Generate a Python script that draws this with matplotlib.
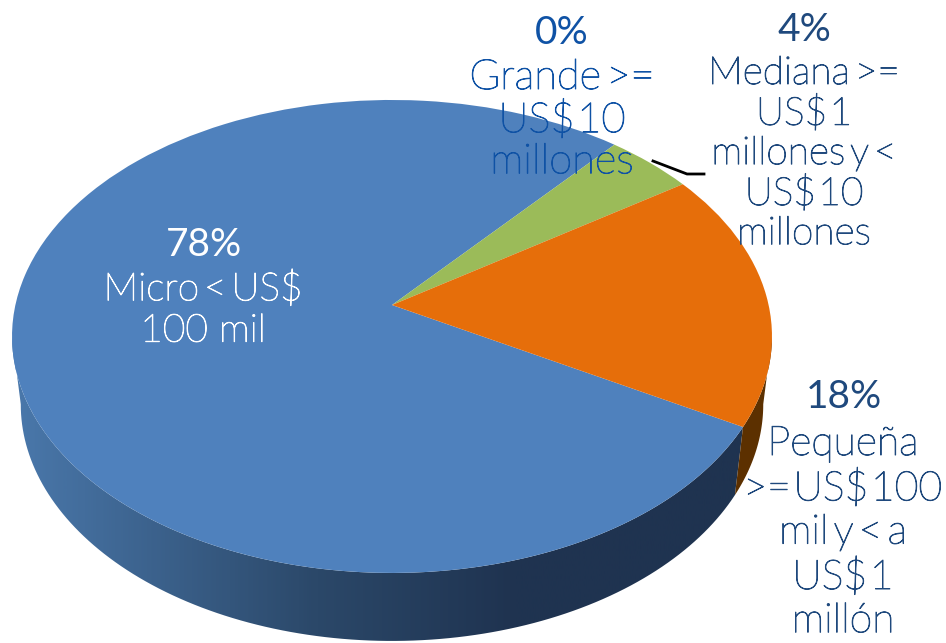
import numpy as np
import matplotlib
matplotlib.use("Agg")
import matplotlib.pyplot as plt
import matplotlib.patheffects as pe
from matplotlib.colors import LinearSegmentedColormap
from matplotlib.patches import Polygon
from matplotlib.transforms import Transform

plt.rcParams['font.family'] = ['Lato', 'DejaVu Sans']

categorias = ["Micro\u2009<\u2009US$\n100 mil",
              "Grande\u2009>=\nUS$\u200a10\nmillones",
              "Mediana\u2009>=\nUS$\u200a1\nmillones\u2009y\u2009<\nUS$\u200a10\nmillones",
              "Pequeña\n>=\u200aUS$\u200a100\nmil\u2009y\u2009<\u2009a\nUS$\u200a1\nmillón"]
valores = [78.1, 0.0, 4.3, 17.6]
etiquetas = ["78%", "0%", "4%", "18%"]
colores = ["#4f81bd", "#7aa03c", "#9bbb59", "#e66e0a"]
colores_texto = ["white", "#0f52a5", "#1f497d", "#1f497d"]
pos_pct = [(204, 245), (562, 33), (804, 30), (844, 397)]
pos_texto = [(203, 270), (562, 59), (804, 55), (843, 425)]
tamanos = [28, 30, 28, 29.5]
interlineado = [1.185, 1.105, 1.115, 1.175]

CX, CY = 392, 305
A, B, K = 376.6, 232.3, 0.133
ALTO = 68
ESCALA_BASE = 0.977


class Inclinado(Transform):
    # pasa el circulo unitario a la cara superior en perspectiva
    input_dims = 2
    output_dims = 2

    def transform_non_affine(self, xy):
        xy = np.asarray(xy)
        d = 1 + K * xy[:, 1]
        return np.column_stack([CX + A * xy[:, 0] / d, CY - B * xy[:, 1] / d])


def borde(t1, t2):
    t = np.radians(np.linspace(t1, t2, 120))
    return Inclinado().transform_non_affine(np.column_stack([np.cos(t), np.sin(t)]))


def lateral(t1, t2):
    arriba = borde(t1, t2)
    abajo = arriba.copy()
    abajo[:, 0] = CX + ESCALA_BASE * (abajo[:, 0] - CX)
    abajo[:, 1] += ALTO
    return np.vstack([arriba, abajo[::-1]])


fig = plt.figure(figsize=(9.46, 6.43), dpi=100)
ax = fig.add_axes([0, 0, 1, 1])

wedges, _ = ax.pie(valores, colors=colores, startangle=-29.4, counterclock=False,
                   wedgeprops={"linewidth": 0, "zorder": 3})
ax.set_aspect("auto")
for w in wedges:
    w.set_transform(Inclinado() + ax.transData)
    w.set_clip_on(False)

corte = wedges[0].theta2

# lado con degradado
degradado = LinearSegmentedColormap.from_list(
    "lado", [(0, "#4a78ab"), (0.4, "#2b4869"), (0.66, "#1f3350"), (1, "#1f3350")])
img = ax.imshow(np.linspace(0, 1, 300).reshape(1, -1), cmap=degradado, aspect="auto",
                extent=(12, 772, 643, 0), zorder=1)
lado = Polygon(lateral(corte, -172.4), transform=ax.transData, fc="none", ec="none")
ax.add_patch(lado)
img.set_clip_path(lado)

ax.add_patch(Polygon(lateral(corte, -7.6), fc="#5c3000", ec="none", zorder=2))

ax.plot([653, 687, 704], [161, 174, 174], color="black", lw=2, zorder=4)

for i, cat in enumerate(categorias):
    col = colores_texto[i]
    ax.text(*pos_pct[i], etiquetas[i], color=col, fontsize=28, ha="center", va="center", zorder=5)
    t = ax.text(*pos_texto[i], cat, color=col, fontsize=tamanos[i], fontweight="light",
                ha="center", va="top", linespacing=interlineado[i], zorder=5)
    t.set_path_effects([pe.withStroke(linewidth=0.7, foreground=col)])

ax.set_xlim(0, 946)
ax.set_ylim(643, 0)
ax.axis("off")
fig.savefig("out.png", dpi=100)
